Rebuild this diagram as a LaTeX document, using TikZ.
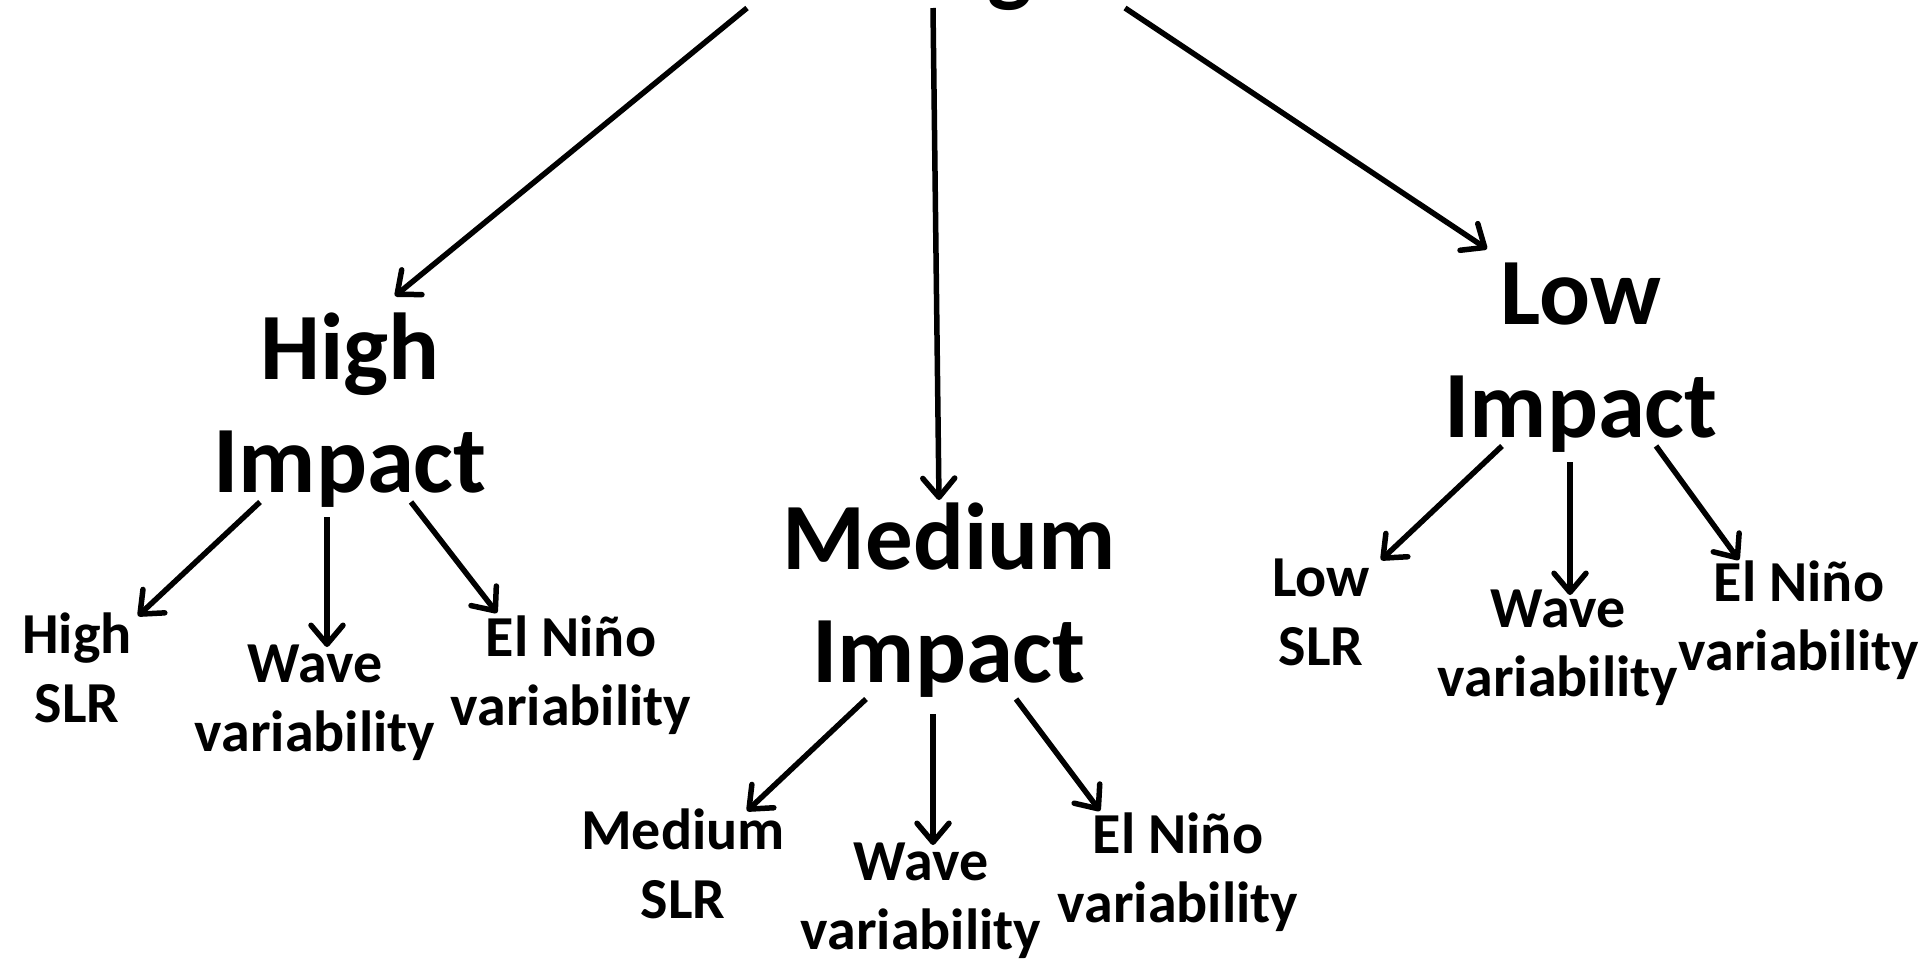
\documentclass[tikz,border=0pt]{standalone}
\usepackage{fontspec}
\setmainfont{Carlito}
\usetikzlibrary{arrows.meta}
\begin{document}
\begin{tikzpicture}[x=1bp,y=-1bp,
  big/.style={font=\bfseries\fontsize{95bp}{113bp}\selectfont,align=center,anchor=base,inner sep=0pt},
  small/.style={font=\bfseries\fontsize{58bp}{69bp}\selectfont,align=center,anchor=base,inner sep=0pt},
  arr/.style={line width=5.5bp,-{Straight Barb[length=19bp,width=32bp,round]}}]
\useasboundingbox (0,0) rectangle (1920,961);
% heading above the frame; only its descender reaches the page
\node[big] (top) at (1010,-6) {g};
% impact levels (base = baseline of the last line)
\node[big] (hi)  at (350,492) {High\\Impact};
\node[big] (med) at (949,682) {Medium\\Impact};
\node[big] (lo)  at (1581,437) {Low\\Impact};
% factors under each level
\node[small] (hslr)  at (77,722)  {High\\SLR};
\node[small] (hwave) at (315,751) {Wave\\variability};
\node[small] (hnino) at (571,725) {El Niño\\variability};
\node[small] (mslr)  at (683,918) {Medium\\SLR};
\node[small] (mwave) at (921,949) {Wave\\variability};
\node[small] (mnino) at (1178,922) {El Niño\\variability};
\node[small] (lslr)  at (1321,665) {Low\\SLR};
\node[small] (lwave) at (1558,696) {Wave\\variability};
\node[small] (lnino) at (1799,670) {El Niño\\variability};
% heading to levels
\draw[arr] ([shift={(-263,14)}]top.base) -- ([shift={(45,-196)}]hi.base);
\draw[arr] ([shift={(-77,14)}]top.base) -- ([shift={(-10,-182)}]med.base);
\draw[arr] ([shift={(115,14)}]top.base) -- ([shift={(-94,-188)}]lo.base);
% high impact
\draw[arr] ([shift={(-90,10)}]hi.base) -- ([shift={(61,-106)}]hslr.base);
\draw[arr] ([shift={(-23,25)}]hi.base) -- ([shift={(12,-104)}]hwave.base);
\draw[arr] ([shift={(61,10)}]hi.base) -- ([shift={(-74,-112)}]hnino.base);
% medium impact
\draw[arr] ([shift={(-83,17)}]med.base) -- ([shift={(64,-107)}]mslr.base);
\draw[arr] ([shift={(-16,32)}]med.base) -- ([shift={(12,-104)}]mwave.base);
\draw[arr] ([shift={(67,17)}]med.base) -- ([shift={(-78,-111)}]mnino.base);
% low impact
\draw[arr] ([shift={(-79,9)}]lo.base) -- ([shift={(60,-105)}]lslr.base);
\draw[arr] ([shift={(-11,25)}]lo.base) -- ([shift={(12,-101)}]lwave.base);
\draw[arr] ([shift={(75,9)}]lo.base) -- ([shift={(-60,-110)}]lnino.base);
\end{tikzpicture}
\end{document}
